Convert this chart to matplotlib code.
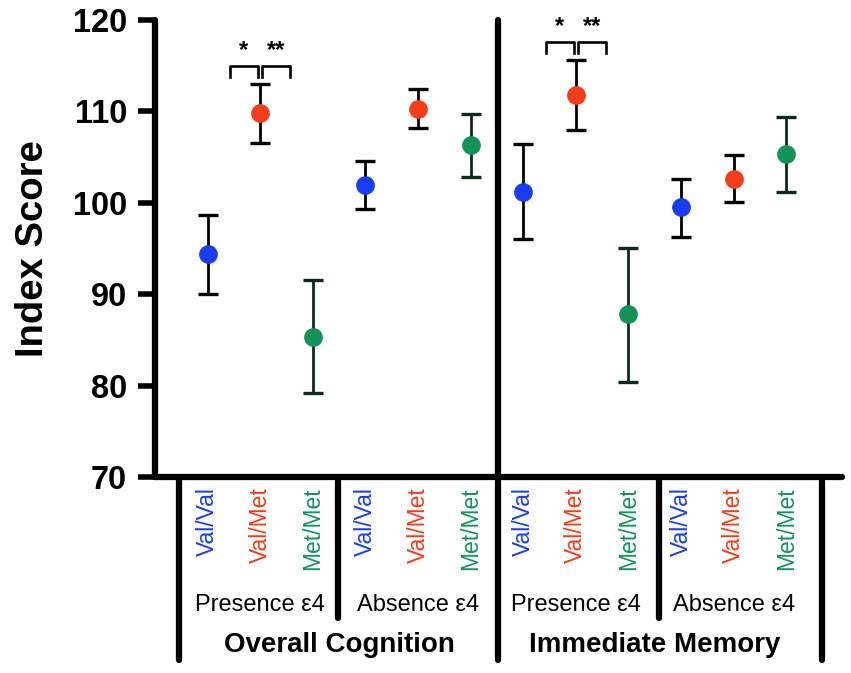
"""Index Score по генотипам (Val/Val, Val/Met, Met/Met) при наличии/отсутствии ε4."""
import matplotlib.pyplot as plt
import numpy as np

plt.rcParams['font.family'] = ['Liberation Sans', 'DejaVu Sans']

# данные
genotypes = ['Val/Val', 'Val/Met', 'Met/Met']
subgroups = ['Presence ε4', 'Absence ε4']
domains = ['Overall Cognition', 'Immediate Memory']

means = [94.4, 109.8, 85.3, 101.9, 110.3, 106.3,
         101.2, 111.8, 87.8, 99.5, 102.6, 105.3]
upper = [98.7, 113.0, 91.5, 104.6, 112.4, 109.7,
         106.4, 115.6, 95.1, 102.6, 105.2, 109.4]
lower = [90.0, 106.5, 79.2, 99.3, 108.2, 102.8,
         96.0, 108.0, 80.4, 96.3, 100.1, 101.2]

y_ticks = [70, 80, 90, 100, 110, 120]

# цвета
col_geno = ['#1a3cf0', '#f23c1c', '#15915a']
col_err = ['black', 'black', '#0c2a1a']

W, H = 851, 673
fig = plt.figure(figsize=(W / 100, H / 100), dpi=100)
ax = fig.add_axes([155 / W, 1 - 477 / H, (842 - 155) / W, (477 - 20) / H])

x = np.arange(1, len(means) + 1)
for i in range(len(means)):
    g = i % 3
    ax.errorbar(x[i], means[i],
                yerr=[[means[i] - lower[i]], [upper[i] - means[i]]],
                fmt='none', ecolor=col_err[g], elinewidth=2.0,
                capsize=7.5, capthick=2.4, zorder=2)
    ax.plot(x[i], means[i], 'o', color=col_geno[g], markersize=13.5,
            markeredgewidth=0, zorder=3)

ax.set_xlim(0, 13.06)
ax.set_ylim(70, 120)
ax.set_yticks(y_ticks)
ax.set_yticklabels([str(t) for t in y_ticks], fontsize=23.5, fontweight='bold')
ax.set_xticks([])
ax.tick_params(axis='y', length=12, width=4, pad=8)
ax.set_ylabel('Index Score', fontsize=27.5, fontweight='bold', labelpad=16)

for s in ['top', 'right']:
    ax.spines[s].set_visible(False)
for s in ['left', 'bottom']:
    ax.spines[s].set_linewidth(4.5)
    ax.spines[s].set_capstyle('round')

# разделители под осью
lw = 4.5
for xd in [0.46, 12.68]:
    ax.plot([xd, xd], [70, 50.0], color='black', lw=lw,
            solid_capstyle='round', clip_on=False)
for xd in [3.48, 9.58]:
    ax.plot([xd, xd], [70, 54.6], color='black', lw=lw,
            solid_capstyle='round', clip_on=False)
# центральная линия во весь рост
ax.plot([6.52, 6.52], [120, 50.0], color='black', lw=lw,
        solid_capstyle='round', clip_on=False)

# подписи генотипов
for i in range(len(means)):
    g = i % 3
    ax.text(x[i], 68.9, genotypes[g], rotation=90, ha='center', va='top',
            fontsize=16.5, color=col_geno[g], clip_on=False)

# подписи подгрупп и доменов
for k in range(4):
    ax.text(2 + 3 * k, 56.0, subgroups[k % 2], ha='center', va='center',
            fontsize=17, clip_on=False)
for k in range(2):
    ax.text(3.5 + 6 * k, 51.6, domains[k], ha='center', va='center',
            fontsize=20, fontweight='bold', clip_on=False)

# скобки значимости
br = [(2, 115.0, 113.8), (8, 117.6, 116.4)]
for xc, top, bot in br:
    ax.plot([xc - 0.57, xc - 0.57, xc - 0.04, xc - 0.04],
            [bot, top, top, bot], color='black', lw=1.9, clip_on=False)
    ax.plot([xc + 0.04, xc + 0.04, xc + 0.57, xc + 0.57],
            [bot, top, top, bot], color='black', lw=1.9, clip_on=False)
    ax.text(xc - 0.31, top + 0.4, '*', ha='center', va='bottom',
            fontsize=17, fontweight='bold', clip_on=False)
    ax.text(xc + 0.31, top + 0.4, '**', ha='center', va='bottom',
            fontsize=17, fontweight='bold', clip_on=False)

plt.savefig('out.png', dpi=100)
